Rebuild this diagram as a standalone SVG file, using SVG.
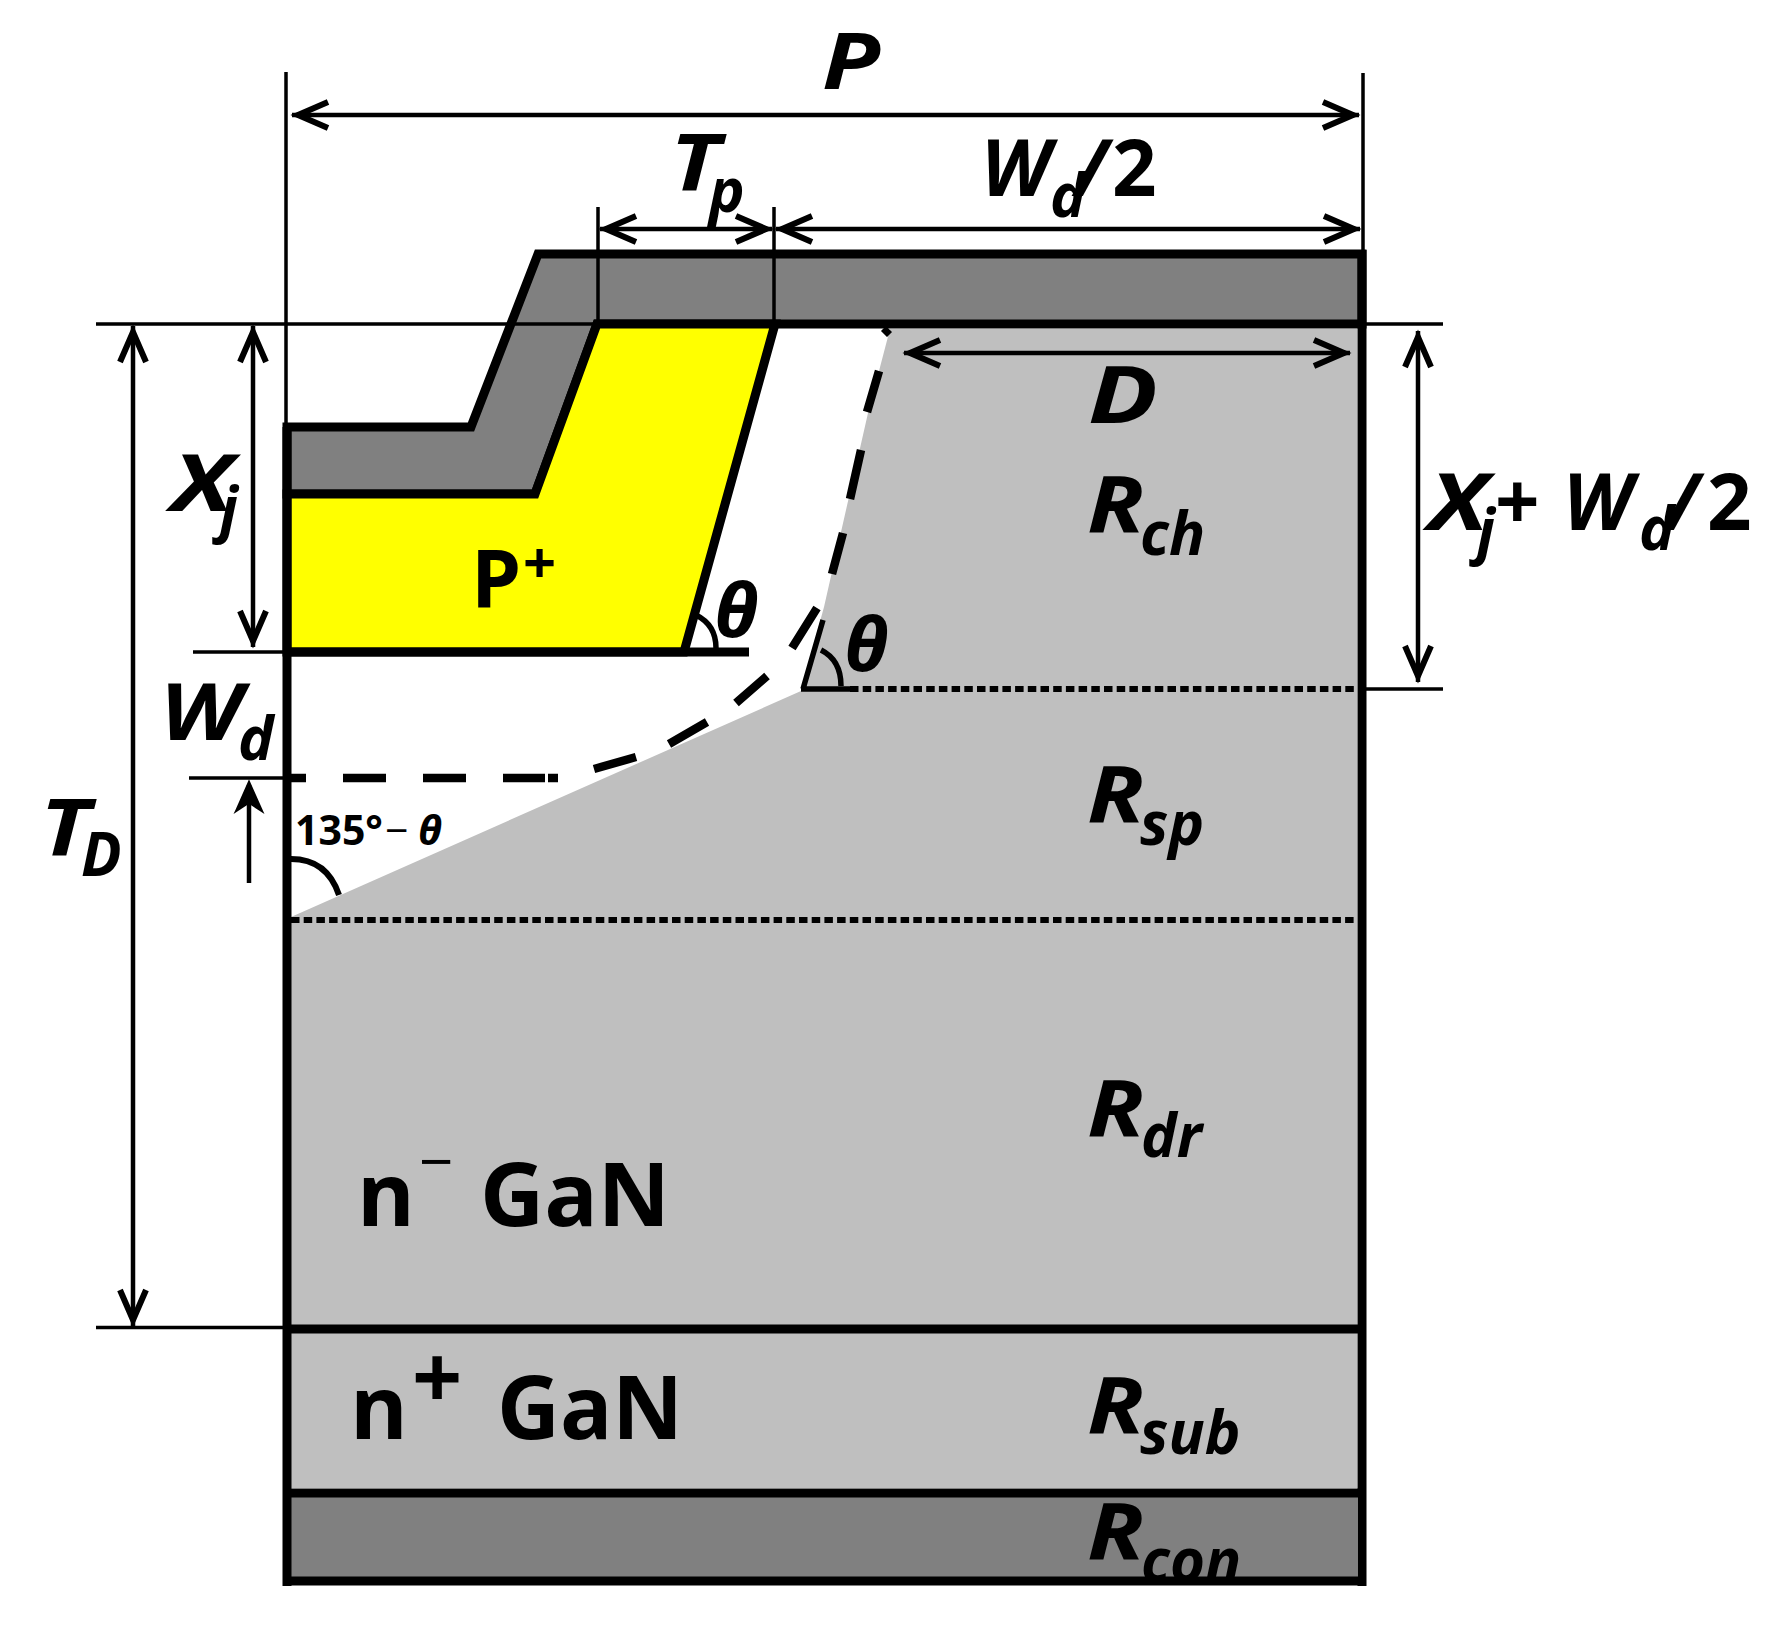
<svg xmlns="http://www.w3.org/2000/svg" width="1779" height="1630" viewBox="0 0 1779 1630">
<style>
text{font-family:"Open Sans","Noto Sans",sans-serif;font-weight:700;fill:#000}
.i{font-style:italic;font-size:78px}
.s{font-size:60px}
.u{font-style:normal}
.g{font-size:88px}
.thin{fill:none;stroke:#000;stroke-width:3.5}
.arr{fill:none;stroke:#000;stroke-width:4.5;marker-start:url(#h);marker-end:url(#h)}
.thick{fill:none;stroke:#000;stroke-width:9}
.mid{fill:none;stroke:#000;stroke-width:5.5}
.dot{fill:none;stroke:#000;stroke-width:6;stroke-dasharray:8.5 4.2}
</style>
<defs>
<marker id="h" markerUnits="userSpaceOnUse" markerWidth="44" markerHeight="40" refX="40" refY="20" orient="auto-start-reverse" overflow="visible">
<path d="M4,7 L34,20 L4,33" fill="none" stroke="#000" stroke-width="6"/>
</marker>
</defs>
<rect width="1779" height="1630" fill="#fff"/>
<g id="substrate-body">
<path d="M291,917 L801,691 L824,607 L868,413 L890,329 L1357,329 L1357,1488 L291,1488 Z" fill="#bfbfbf"/>
</g>
<g id="contact-bottom"><rect x="291" y="1497" width="1066" height="80" fill="#808080"/></g>
<g id="contact-top">
<path d="M287,427 L471,427 L538,254 L1362,254 L1362,324 L597,324 L535,494 L287,494 Z" fill="#808080" stroke="#000" stroke-width="9" stroke-linejoin="miter"/>
</g>
<g id="p-plus">
<path d="M287,494 L535,494 L597,324 L775,324 L684,652 L287,652 Z" fill="#ff0" stroke="#000" stroke-width="9"/>
<text x="471" y="608" style="font-size:80px">P<tspan x="523" y="583" style="font-size:58px">+</tspan></text>
</g>
<g id="connectors">
<path class="thin" d="M286,72V427M1363,73V250M598,207V324M774,207V324M96,324H600M1366,324H1443M1366,689H1443M193,652H287M189,778H287M96,1327.500H287"/>
<path class="arr" d="M292,115H1359"/>
<path class="arr" d="M600,229H772"/>
<path class="arr" d="M776,229H1360"/>
<path class="arr" d="M904,353H1350"/>
<path class="arr" d="M1418,331V682"/>
<path class="arr" d="M133,326V1326"/>
<path class="arr" d="M253,326V647"/>
<path d="M249,883V785" fill="none" stroke="#000" stroke-width="4.500"/>
<path d="M237,810L249,783L261,810L249,802Z" fill="#000" stroke="#000" stroke-width="3"/>
</g>
<g id="boundaries">
<path class="thick" d="M287,427V1586M1362,250V1586M283,1581H1366M287,1329H1362M287,1493H1362M287,652H749"/>
<path class="dot" d="M850,689H1357M291,920H1357"/>
<path class="mid" d="M801,689H850M803,689L823,620M696,615Q716,625 716,648M821,650Q841,660 841,686"/>
<path d="M291,859Q327,859 339,895" fill="none" stroke="#000" stroke-width="6"/>
<path d="M291,778H306M343,778H386M423,778H466M503,778H545M548,778H558M594,769L636,757M669,744L707,722M736,703L767,676M792,648L817,608M832,574L843,533M850,499L861,450M867,412L879,371M884,334L889,329" fill="none" stroke="#000" stroke-width="8.500"/>
</g>
<g id="labels">
<text class="i" x="822" y="89"><tspan textLength="58" lengthAdjust="spacingAndGlyphs">P</tspan></text>
<text class="i" x="670" y="191"><tspan textLength="50" lengthAdjust="spacingAndGlyphs">T</tspan><tspan class="s" x="709" y="212">p</tspan></text>
<text class="i" x="981" y="196">W<tspan class="s" x="1050" y="217">d</tspan><tspan x="1075" y="196">/</tspan><tspan class="u" x="1112" y="196">2</tspan></text>
<text class="i" x="1088" y="423"><tspan textLength="70" lengthAdjust="spacingAndGlyphs">D</tspan></text>
<text class="i" x="1087" y="533"><tspan textLength="57" lengthAdjust="spacingAndGlyphs">R</tspan><tspan class="s" x="1140" y="555">ch</tspan></text>
<text class="i" x="1428" y="530"><tspan textLength="60" lengthAdjust="spacingAndGlyphs">X</tspan><tspan class="s" x="1477" y="552">j</tspan><tspan class="u" x="1495" y="530">+</tspan><tspan x="1563" y="530">W</tspan><tspan class="s" x="1639" y="550">d</tspan><tspan x="1666" y="530">/</tspan><tspan class="u" x="1707" y="530">2</tspan></text>
<text class="i" x="171" y="511"><tspan textLength="62" lengthAdjust="spacingAndGlyphs">X</tspan><tspan class="s" x="220" y="530">j</tspan></text>
<text class="i" x="160" y="740"><tspan textLength="82" lengthAdjust="spacingAndGlyphs">W</tspan><tspan class="s" x="238" y="760">d</tspan></text>
<text class="i" x="40" y="856"><tspan textLength="50" lengthAdjust="spacingAndGlyphs">T</tspan><tspan class="s" x="81" y="876">D</tspan></text>
<text class="i" x="714" y="637" style="font-size:76px">θ</text>
<text class="i" x="844" y="671" style="font-size:76px">θ</text>
<text x="295" y="845" style="font-size:41px">135°<tspan x="385" font-weight="400">−</tspan><tspan x="418" font-style="italic">θ</tspan></text>
<text class="g" x="357" y="1226">n<tspan x="419" y="1183" style="font-size:60px;font-weight:400">−</tspan><tspan x="480" y="1226" textLength="190" lengthAdjust="spacingAndGlyphs">GaN</tspan></text>
<text class="g" x="350" y="1439">n<tspan x="412" y="1409" style="font-size:88px">+</tspan><tspan x="497" y="1439" textLength="186" lengthAdjust="spacingAndGlyphs">GaN</tspan></text>
<text class="i" x="1087" y="823"><tspan textLength="57" lengthAdjust="spacingAndGlyphs">R</tspan><tspan class="s" x="1140" y="845">sp</tspan></text>
<text class="i" x="1087" y="1137"><tspan textLength="57" lengthAdjust="spacingAndGlyphs">R</tspan><tspan class="s" x="1141" y="1157">dr</tspan></text>
<text class="i" x="1087" y="1434"><tspan textLength="57" lengthAdjust="spacingAndGlyphs">R</tspan><tspan class="s" x="1140" y="1454">sub</tspan></text>
<text class="i" x="1087" y="1560"><tspan textLength="57" lengthAdjust="spacingAndGlyphs">R</tspan><tspan class="s" x="1141" y="1582">con</tspan></text>
</g>
</svg>
